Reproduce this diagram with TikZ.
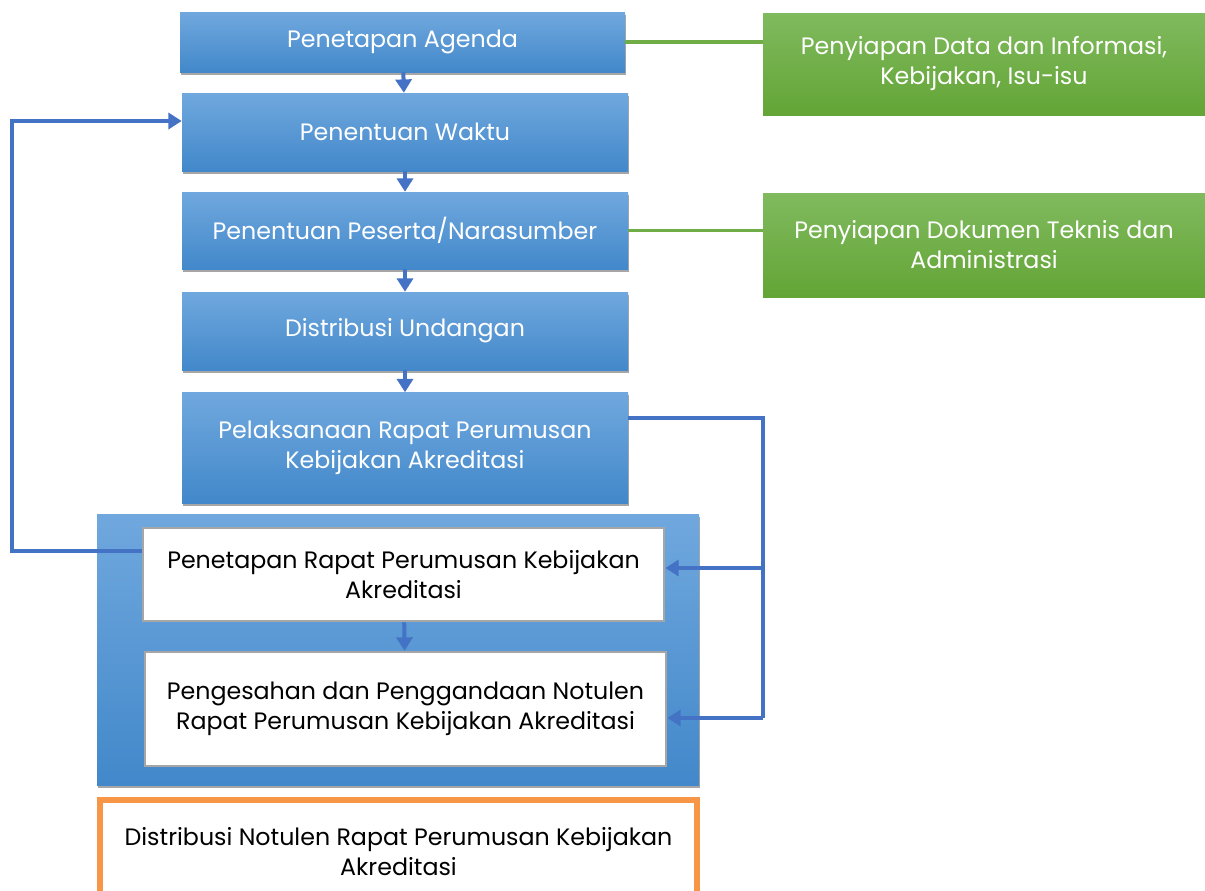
\documentclass[tikz,border=0pt]{standalone}
\usepackage{fontspec}
\setmainfont{Poppins}
\usetikzlibrary{arrows.meta, positioning, shadows, calc}

\definecolor{bluetop}{RGB}{112,168,222}
\definecolor{bluebot}{RGB}{66,136,202}
\definecolor{greentop}{RGB}{128,186,94}
\definecolor{greenbot}{RGB}{99,165,54}
\definecolor{flowblue}{RGB}{68,114,196}
\definecolor{flowgreen}{RGB}{112,173,71}
\definecolor{flowor}{RGB}{247,150,70}

\begin{document}
\begin{tikzpicture}[x=0.75pt, y=-0.75pt,
      txt/.style={font=\fontsize{17.8}{22.5}\selectfont, align=center},
      bluebox/.style={rectangle, txt, text=white, top color=bluetop, bottom color=bluebot,
        drop shadow={shadow xshift=0.8pt, shadow yshift=-2.2pt, fill=black!35, opacity=1}},
      greenbox/.style={rectangle, txt, text=white, top color=greentop, bottom color=greenbot},
      whitebox/.style={rectangle, txt, draw=black!35, line width=2pt, fill=white},
      orbox/.style={rectangle, txt, draw=flowor, line width=4.5pt, fill=white},
      flow/.style={-{Triangle[length=10pt, width=12pt]}, draw=flowblue, line width=3pt},
      link/.style={draw=flowgreen, line width=2.4pt}]

      \useasboundingbox (0,0) rectangle (1205,890);

      \node[bluebox, minimum width=445*0.75pt, minimum height=60*0.75pt] (agenda) at (402.5,42) {Penetapan Agenda};
      \node[bluebox, minimum width=446*0.75pt, minimum height=78*0.75pt] (waktu) at (405,132) {Penentuan Waktu};
      \node[bluebox, minimum width=446*0.75pt, minimum height=77*0.75pt] (peserta) at (405,230.5) {Penentuan Peserta/Narasumber};
      \node[bluebox, minimum width=446*0.75pt, minimum height=78*0.75pt] (undangan) at (405,331) {Distribusi Undangan};
      \node[bluebox, minimum width=446*0.75pt, minimum height=111*0.75pt] (rapat) at (405,448) {Pelaksanaan Rapat Perumusan\\Kebijakan Akreditasi};

      \node[bluebox, minimum width=602*0.75pt, minimum height=271*0.75pt] (wadah) at (398,649.5) {};
      \node[whitebox, minimum width=521*0.75pt, minimum height=93*0.75pt] (penetapan) at (403.5,574.5) {Penetapan Rapat Perumusan Kebijakan\\Akreditasi};
      \node[whitebox, minimum width=521*0.75pt, minimum height=114*0.75pt] (notulen) at (405.5,709) {Pengesahan dan Penggandaan Notulen\\Rapat Perumusan Kebijakan Akreditasi};

      \node[orbox, minimum width=597*0.75pt, minimum height=104*0.75pt] (distnot) at (398.5,852) {Distribusi Notulen Rapat Perumusan Kebijakan\\Akreditasi};

      \node[greenbox, minimum width=442*0.75pt, minimum height=102*0.75pt] (data) at (984,64) {Penyiapan Data dan Informasi,\\Kebijakan, Isu-isu};
      \node[greenbox, minimum width=442*0.75pt, minimum height=104*0.75pt] (dokumen) at (984,245) {Penyiapan Dokumen Teknis dan\\Administrasi};

      % Arrows
      \draw[flow] (agenda) -- (waktu);
      \draw[flow] (waktu) -- (peserta);
      \draw[flow] (peserta) -- (undangan);
      \draw[flow] (undangan) -- (rapat);
      \draw[flow] (penetapan) -- (notulen);

      % Green links
      \draw[link] (agenda.east) -- (agenda.east -| data.west);
      \draw[link] (peserta.east) -- (peserta.east -| dokumen.west);

      % Loop back to Penentuan Waktu
      \coordinate (kiri) at (12,121);
      \draw[flow] ([yshift=18pt]penetapan.west) -| (kiri) -- (kiri -| waktu.west);

      % Feedback from Pelaksanaan
      \coordinate (busA) at (763,418);
      \coordinate (busB) at (763,568);
      \coordinate (busC) at (763,718);
      \draw[draw=flowblue, line width=3pt] (busA -| rapat.east) -- (busA) -- (busC);
      \draw[flow] (busB) -- (busB -| penetapan.east);
      \draw[flow] (busC) -- (busC -| notulen.east);
    \end{tikzpicture}
\end{document}
